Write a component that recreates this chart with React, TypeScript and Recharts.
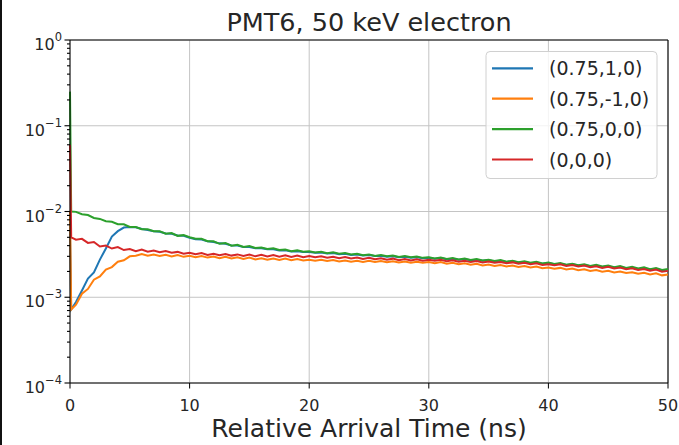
import { LineChart, Line, XAxis, YAxis, CartesianGrid, ReferenceLine } from 'recharts';

// arrival time bins (ns)
const TIME = [
  0, 0.1, 0.5, 1, 1.5, 2, 2.5, 3, 3.5, 4, 4.5, 5, 5.5, 6, 6.5, 7, 7.5, 8, 8.5, 9, 9.5, 10,
  10.5, 11, 11.5, 12, 12.5, 13, 13.5, 14, 14.5, 15, 15.5, 16, 16.5, 17, 17.5, 18, 18.5, 19, 19.5, 20,
  20.5, 21, 21.5, 22, 22.5, 23, 23.5, 24, 24.5, 25, 25.5, 26, 26.5, 27, 27.5, 28, 28.5, 29, 29.5, 30,
  30.5, 31, 31.5, 32, 32.5, 33, 33.5, 34, 34.5, 35, 35.5, 36, 36.5, 37, 37.5, 38, 38.5, 39, 39.5, 40,
  40.5, 41, 41.5, 42, 42.5, 43, 43.5, 44, 44.5, 45, 45.5, 46, 46.5, 47, 47.5, 48, 48.5, 49, 49.5, 50,
];

// probabilities, in units of 1e-3
const BLUE = [
  6, 0.72,
  0.88, 1.2, 1.65, 1.95, 2.75, 3.7, 5.1, 5.9, 6.5, 6.6, 6.55, 6.25, 6.1, 5.9, 5.8, 5.55, 5.5, 5.25, 5.2, 4.95,
  4.75, 4.7, 4.5, 4.4, 4.25, 4.2, 4.02, 4.0, 3.85, 3.85, 3.72, 3.72, 3.62, 3.62, 3.52, 3.52, 3.42, 3.43, 3.36, 3.36,
  3.3, 3.33, 3.24, 3.27, 3.18, 3.22, 3.12, 3.16, 3.07, 3.1, 3.02, 3.05, 2.97, 3.01, 2.93, 2.97, 2.89, 2.93, 2.85, 2.88,
  2.82, 2.86, 2.78, 2.82, 2.74, 2.78, 2.7, 2.74, 2.66, 2.7, 2.62, 2.66, 2.58, 2.62, 2.54, 2.58, 2.5, 2.54, 2.46, 2.5,
  2.43, 2.46, 2.38, 2.42, 2.34, 2.38, 2.3, 2.33, 2.26, 2.29, 2.22, 2.25, 2.18, 2.21, 2.14, 2.17, 2.1, 2.13, 2.06, 2.08,
];
const ORANGE = [
  10, 0.72,
  0.82, 1.1, 1.25, 1.6, 1.75, 2.1, 2.25, 2.6, 2.7, 3.0, 3.05, 3.2, 3.05, 3.15, 3.02, 3.12, 2.98, 3.1, 2.96, 3.04,
  2.92, 3.02, 2.9, 2.98, 2.86, 2.96, 2.84, 2.93, 2.8, 2.9, 2.76, 2.85, 2.74, 2.83, 2.72, 2.82, 2.71, 2.79, 2.68, 2.74,
  2.66, 2.74, 2.64, 2.71, 2.62, 2.69, 2.6, 2.67, 2.58, 2.66, 2.57, 2.64, 2.56, 2.63, 2.54, 2.61, 2.53, 2.6, 2.52, 2.57,
  2.5, 2.57, 2.46, 2.53, 2.42, 2.49, 2.39, 2.45, 2.35, 2.41, 2.32, 2.38, 2.29, 2.35, 2.26, 2.31, 2.23, 2.28, 2.18, 2.22,
  2.15, 2.2, 2.11, 2.16, 2.07, 2.12, 2.03, 2.08, 1.99, 2.04, 1.95, 2.0, 1.92, 1.96, 1.88, 1.93, 1.84, 1.9, 1.8, 1.84,
];
const GREEN = [
  250, 10.0,
  9.9, 9.3, 9.1, 8.4, 8.2, 7.7, 7.6, 7.1, 7.1, 6.6, 6.6, 6.2, 6.2, 5.9, 5.9, 5.5, 5.6, 5.2, 5.3, 5.0,
  4.8, 4.8, 4.5, 4.5, 4.2, 4.3, 4.0, 4.1, 3.85, 3.95, 3.75, 3.8, 3.65, 3.72, 3.55, 3.6, 3.45, 3.52, 3.4, 3.43,
  3.33, 3.4, 3.27, 3.34, 3.21, 3.28, 3.15, 3.22, 3.09, 3.16, 3.03, 3.11, 3.0, 3.07, 2.95, 3.03, 2.92, 2.99, 2.88, 2.93,
  2.84, 2.91, 2.8, 2.87, 2.76, 2.83, 2.72, 2.79, 2.68, 2.74, 2.64, 2.71, 2.6, 2.67, 2.56, 2.63, 2.52, 2.59, 2.48, 2.54,
  2.45, 2.51, 2.4, 2.46, 2.36, 2.43, 2.32, 2.39, 2.29, 2.34, 2.24, 2.31, 2.2, 2.27, 2.16, 2.23, 2.12, 2.19, 2.08, 2.13,
];
const RED = [
  60, 5.0,
  4.7, 4.8, 4.3, 4.4, 3.9, 4.0, 3.7, 3.85, 3.55, 3.65, 3.45, 3.6, 3.4, 3.5, 3.35, 3.45, 3.3, 3.38, 3.22, 3.3,
  3.17, 3.27, 3.12, 3.22, 3.1, 3.2, 3.06, 3.16, 3.03, 3.14, 3.0, 3.12, 2.99, 3.1, 2.97, 3.08, 2.95, 3.06, 2.93, 3.02,
  2.92, 3.0, 2.89, 2.97, 2.86, 2.94, 2.83, 2.91, 2.8, 2.88, 2.77, 2.85, 2.74, 2.82, 2.71, 2.79, 2.69, 2.77, 2.66, 2.74,
  2.66, 2.73, 2.63, 2.7, 2.6, 2.67, 2.57, 2.64, 2.54, 2.61, 2.52, 2.58, 2.49, 2.55, 2.46, 2.52, 2.43, 2.49, 2.38, 2.42,
  2.36, 2.42, 2.32, 2.38, 2.28, 2.34, 2.24, 2.3, 2.2, 2.26, 2.16, 2.22, 2.12, 2.18, 2.08, 2.14, 2.04, 2.1, 1.99, 2.03,
];

const X_TICKS = [0, 10, 20, 30, 40, 50];
const Y_EXPONENTS = [-4, -3, -2, -1, 0];
const MINOR_MANTISSAS = [2, 3, 4, 5, 6, 7, 8, 9];

const SERIES = [
  { key: 'blue', name: '(0.75,1,0)', color: '#1f77b4', values: BLUE },
  { key: 'orange', name: '(0.75,-1,0)', color: '#ff7f0e', values: ORANGE },
  { key: 'green', name: '(0.75,0,0)', color: '#2ca02c', values: GREEN },
  { key: 'red', name: '(0,0,0)', color: '#d62728', values: RED },
];

const data = TIME.map((t, i) => {
  const row: Record<string, number> = { t };
  SERIES.forEach((s) => { row[s.key] = s.values[i] * 1e-3; });
  return row;
});

const MAJOR_TICKS = Y_EXPONENTS.map((e) => Math.pow(10, e));
const Y_TICKS = [
  ...MAJOR_TICKS,
  ...Y_EXPONENTS.slice(0, -1).flatMap((e) => MINOR_MANTISSAS.map((m) => m * Math.pow(10, e))),
].sort((a, b) => a - b);

const FONT = '"DejaVu Sans", sans-serif';
const INK = '#262626';

const LogTick = (props: any) => {
  const { x, y, payload } = props;
  const exp = Math.log10(payload.value);
  const major = Math.abs(exp - Math.round(exp)) < 1e-6;
  const e = Math.round(exp);
  return (
    <g>
      <line x1={x - (major ? 5.5 : 3)} x2={x} y1={y} y2={y} stroke="#000" strokeWidth={1.1} />
      {major && (
        <text x={x - 8} y={y + 10} textAnchor="end" fontSize={16} fill={INK} fontFamily={FONT}>
          10
          <tspan dy={-9} fontSize={11.5}>{e < 0 ? `\u2212${-e}` : `${e}`}</tspan>
        </text>
      )}
    </g>
  );
};

export default function App() {
  return (
    <div style={{ position: 'absolute', left: 0, top: 0, width: 679, height: 445, background: '#fff', fontFamily: FONT }}>
      <LineChart width={679} height={445} data={data} margin={{ top: 40, right: 11, left: 0, bottom: 0 }}>
        <CartesianGrid stroke="#c4c4c4" strokeWidth={1} horizontalValues={MAJOR_TICKS} verticalValues={X_TICKS} />
        <XAxis
          dataKey="t"
          type="number"
          domain={[0, 50]}
          ticks={X_TICKS}
          interval={0}
          height={62}
          tickSize={5.5}
          tickMargin={11}
          stroke="#000"
          tick={{ fontSize: 16, fill: INK, fontFamily: FONT }}
        />
        <YAxis
          type="number"
          scale="log"
          domain={[1e-4, 1]}
          allowDataOverflow
          ticks={Y_TICKS}
          interval={0}
          width={70}
          tickSize={0}
          tickMargin={0}
          tickLine={false}
          stroke="#000"
          tick={<LogTick />}
        />
        <ReferenceLine y={1} stroke="#000" strokeWidth={1.1} />
        <ReferenceLine x={50} stroke="#000" strokeWidth={1.1} />
        {SERIES.map((s) => (
          <Line
            key={s.key}
            dataKey={s.key}
            name={s.name}
            type="linear"
            stroke={s.color}
            strokeWidth={2}
            dot={false}
            isAnimationActive={false}
          />
        ))}
      </LineChart>
      <svg width={679} height={445} style={{ position: 'absolute', left: 0, top: 0, pointerEvents: 'none' }}>
        <rect x={0} y={0} width={2} height={445} fill="#111" />
        <text x={369} y={31} textAnchor="middle" fontSize={25.5} fill={INK} fontFamily={FONT}>
          PMT6, 50 keV electron
        </text>
        <text x={369} y={437} textAnchor="middle" fontSize={25} fill={INK} fontFamily={FONT}>
          Relative Arrival Time (ns)
        </text>
        <rect x={486} y={51.5} width={171} height={127} rx={4} fill="#fff" fillOpacity={0.8} stroke="#d0d0d0" />
        {SERIES.map((s, i) => (
          <g key={s.key}>
            <line x1={492} x2={533} y1={68.3 + i * 30.4} y2={68.3 + i * 30.4} stroke={s.color} strokeWidth={2.2} />
            <text x={549} y={68.3 + i * 30.4 + 7} fontSize={19} fill={INK} fontFamily={FONT}>{s.name}</text>
          </g>
        ))}
      </svg>
    </div>
  );
}
